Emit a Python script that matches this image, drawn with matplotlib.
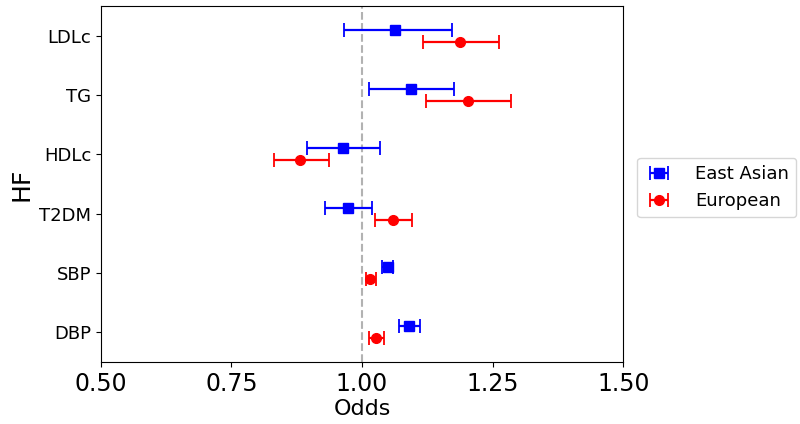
import matplotlib
matplotlib.use("Agg")
import matplotlib.pyplot as plt
import numpy as np

categories = ["LDLc", "TG", "HDLc", "T2DM", "SBP", "DBP"]
ea_or = [1.064, 1.093, 0.964, 0.973, 1.049, 1.090]
ea_lo = [0.966, 1.013, 0.895, 0.930, 1.038, 1.070]
ea_hi = [1.173, 1.176, 1.035, 1.020, 1.060, 1.111]
eu_or = [1.188, 1.202, 0.882, 1.059, 1.016, 1.027]
eu_lo = [1.116, 1.122, 0.832, 1.024, 1.007, 1.013]
eu_hi = [1.263, 1.285, 0.936, 1.095, 1.026, 1.043]
xticks = [0.50, 0.75, 1.00, 1.25, 1.50]

fig = plt.figure(figsize=(8, 4.24), dpi=100)
ax = fig.add_axes([0.126, 0.146, 0.653, 0.840])

n = len(categories)
pos = np.arange(n)[::-1]

ea_or_a = np.array(ea_or); eu_or_a = np.array(eu_or)
ea_err = [ea_or_a - np.array(ea_lo), np.array(ea_hi) - ea_or_a]
eu_err = [eu_or_a - np.array(eu_lo), np.array(eu_hi) - eu_or_a]

ax.axvline(1.0, color="gray", linestyle="--", linewidth=1.5, alpha=0.6, zorder=0)
ax.errorbar(ea_or_a, pos + 0.1, xerr=ea_err, fmt="s", color="blue", ecolor="blue",
            markersize=7, capsize=5, elinewidth=1.6, capthick=1.3, label="East Asian")
ax.errorbar(eu_or_a, pos - 0.1, xerr=eu_err, fmt="o", color="red", ecolor="red",
            markersize=7, capsize=5, elinewidth=1.6, capthick=1.3, label="European")

ax.set_xlim(0.5, 1.5)
ax.set_ylim(-0.5, 5.5)
ax.set_xticks(xticks)
ax.set_xticklabels([f"{t:.2f}" for t in xticks], fontsize=17)
ax.set_yticks(pos)
ax.set_yticklabels(categories, fontsize=13)
ax.set_xlabel("Odds", fontsize=16, labelpad=2)
ax.set_ylabel("HF", fontsize=18)

ax.legend(loc="center left", bbox_to_anchor=(1.01, 0.49), fontsize=13,
          handlelength=1.6, handletextpad=1.2)

fig.savefig("out.png", dpi=100)
